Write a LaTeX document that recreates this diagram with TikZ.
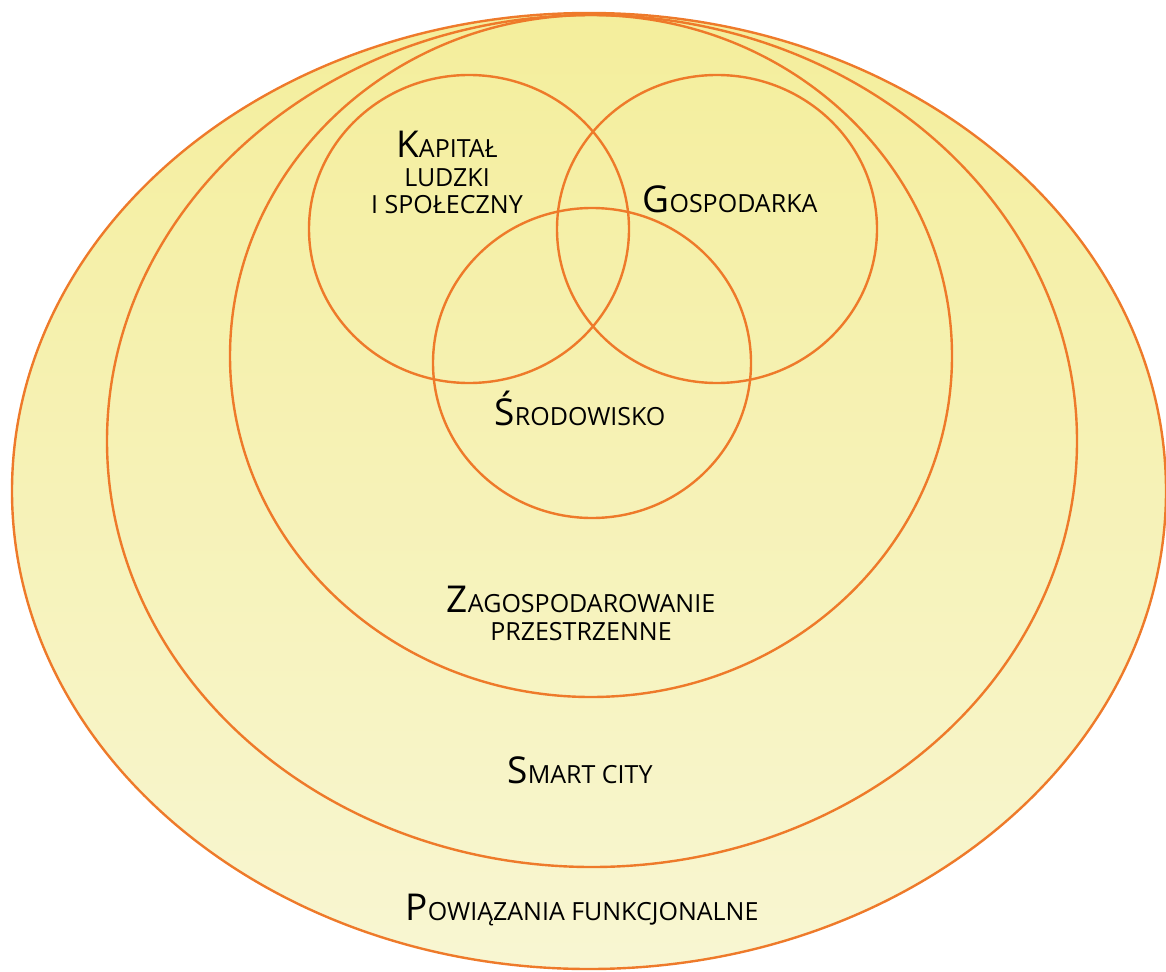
\documentclass[tikz,border=0pt]{standalone}
\usepackage{fontspec}
\setmainfont{Open Sans}
\definecolor{ring}{HTML}{EE7A2A}
\definecolor{filltop}{HTML}{F4EE9C}
\definecolor{fillbot}{HTML}{F8F6D2}
\newcommand{\bigc}[1]{{\fontsize{37}{37}\selectfont #1}}
\newcommand{\smallc}[1]{{\fontsize{25}{25}\selectfont #1}}
\tikzset{
  ringline/.style={draw=ring, line width=2.4pt},
  lbl/.style={anchor=base, inner sep=0pt, text=black},
}
\begin{document}
\begin{tikzpicture}[x=1pt,y=-1pt]
\useasboundingbox (0,0) rectangle (1166,971);
\begin{scope}
\clip (0,0) rectangle (1166,971);
% outer: Powiazania funkcjonalne
\shade[top color=filltop, bottom color=fillbot] (589,491) ellipse [x radius=577, y radius=478];
\draw[ringline] (589,491) ellipse [x radius=577, y radius=478];
% Smart city
\draw[ringline] (592,441) ellipse [x radius=485, y radius=426];
% Zagospodarowanie przestrzenne
\draw[ringline] (591,356) ellipse [x radius=361, y radius=341];
% three circles
\draw[ringline] (469,229) ellipse [x radius=160, y radius=154];
\draw[ringline] (717,229) ellipse [x radius=160, y radius=154];
\draw[ringline] (592,363) ellipse [x radius=159, y radius=155];
\end{scope}
% labels
\node[lbl] (kap1) at (447,157) {\bigc{K}\smallc{APITAŁ}};
\node[lbl] (kap2) at (447,186) {\smallc{LUDZKI}};
\node[lbl] (kap3) at (447,213) {\smallc{I SPOŁECZNY}};
\node[lbl] (gosp) at (730,212) {\bigc{G}\smallc{OSPODARKA}};
\node[lbl] (srod) at (580,425) {\bigc{Ś}\smallc{RODOWISKO}};
\node[lbl] (zag1) at (581,612) {\bigc{Z}\smallc{AGOSPODAROWANIE}};
\node[lbl] (zag2) at (581,640) {\smallc{PRZESTRZENNE}};
\node[lbl] (smart) at (580,783) {\bigc{S}\smallc{MART CITY}};
\node[lbl] (pow) at (582,920) {\bigc{P}\smallc{OWIĄZANIA FUNKCJONALNE}};
\end{tikzpicture}
\end{document}
